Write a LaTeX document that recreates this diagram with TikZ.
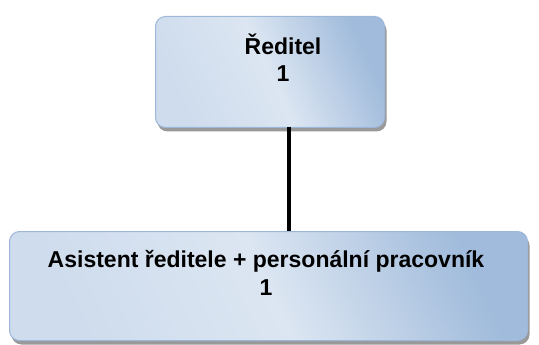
\documentclass[tikz,border=0pt]{standalone}
\usepackage{fontspec}
\setmainfont{Liberation Sans}
\usetikzlibrary{shadows}
\definecolor{boxlight}{HTML}{DCE6F2}
\definecolor{boxdark}{HTML}{95B3D7}
\definecolor{boxedge}{HTML}{9DB7D9}
\tikzset{
  orgbox/.style={draw=boxedge, line width=1pt, rounded corners=10pt,
    left color=boxlight!80!boxdark, right color=boxdark!85!boxlight,
    middle color=boxlight, shading angle=115,
    drop shadow={shadow xshift=2pt, shadow yshift=-4pt, fill=gray!80, opacity=1},
    inner sep=0pt},
  orgtext/.style={font=\bfseries\fontsize{23}{28}\selectfont, align=center, inner sep=0pt},
  conn/.style={line width=4pt, draw=black}
}
\begin{document}
\begin{tikzpicture}[x=1pt,y=-1pt]
\useasboundingbox (0,0) rectangle (539,345);
\node[orgbox, minimum width=229pt, minimum height=111pt, anchor=north west] (dir) at (155,16) {};
\node[orgbox, minimum width=518pt, minimum height=109pt, anchor=north west] (asst) at (9,231) {};
\coordinate (c1) at (289,127);
\coordinate (c2) at (289,231);
\draw[conn] (c1) -- (c2);
\node[orgtext, anchor=base] (t1) at (283,82) {Ředitel\\1};
\node[orgtext, anchor=base] (t2) at (266,295) {Asistent ředitele + personální pracovník\\1};
\end{tikzpicture}
\end{document}
